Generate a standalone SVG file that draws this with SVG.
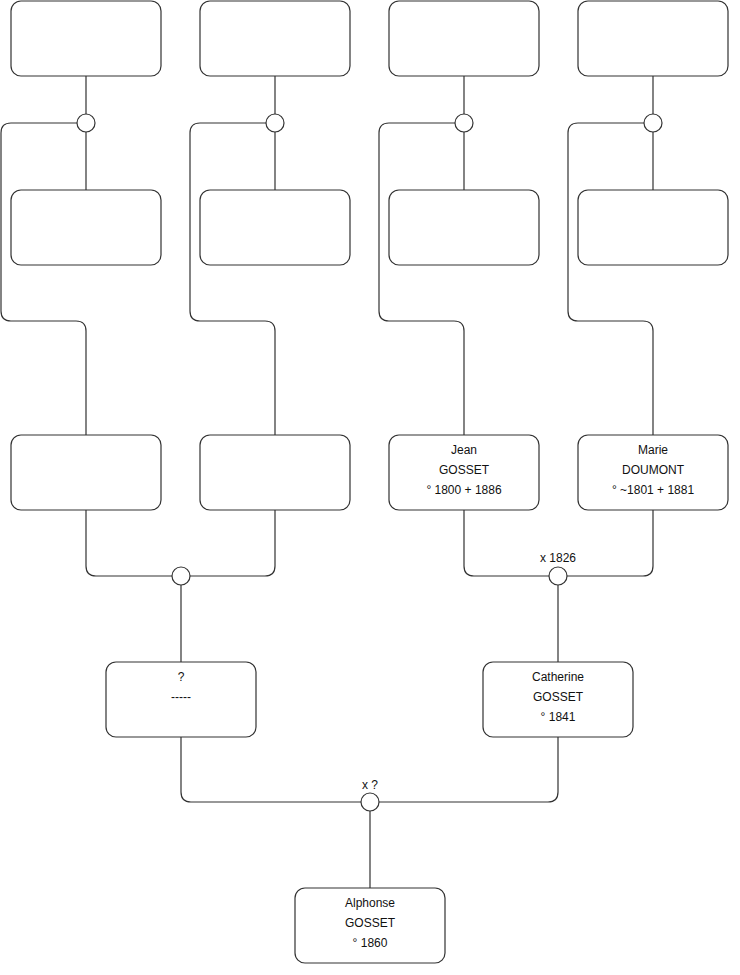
<svg xmlns="http://www.w3.org/2000/svg" width="740" height="975" viewBox="0 0 740 975">
<style>
.box{fill:#fff;stroke:#333;stroke-width:1.2}
.c{fill:#fff;stroke:#333;stroke-width:1.2}
.ln{fill:none;stroke:#333;stroke-width:1.2}
text{font-family:"Liberation Sans",Arial,sans-serif;font-size:12px;fill:#111;text-anchor:middle}
</style>
<rect width="740" height="975" fill="#fff"/>
<g id="connectors">
<path class="ln" d="M86,76V190 M77,123H11Q1,123 1,133V311Q1,321 11,321H76Q86,321 86,331V435"/>
<path class="ln" d="M275,76V190 M266,123H200Q190,123 190,133V311Q190,321 200,321H265Q275,321 275,331V435"/>
<path class="ln" d="M464,76V190 M455,123H389Q379,123 379,133V311Q379,321 389,321H454Q464,321 464,331V435"/>
<path class="ln" d="M653,76V190 M644,123H578Q568,123 568,133V311Q568,321 578,321H643Q653,321 653,331V435"/>
<path class="ln" d="M86,510V566Q86,576 96,576H172 M275,510V566Q275,576 265,576H190 M181,585V662"/>
<path class="ln" d="M464,510V566Q464,576 474,576H549 M653,510V566Q653,576 643,576H567 M558,585V662"/>
<path class="ln" d="M181,737V792Q181,802 191,802H361 M558,737V792Q558,802 548,802H379 M370,811V888"/>
<circle class="c" cx="86" cy="123" r="9"/>
<circle class="c" cx="275" cy="123" r="9"/>
<circle class="c" cx="464" cy="123" r="9"/>
<circle class="c" cx="653" cy="123" r="9"/>
<circle class="c" cx="181" cy="576" r="9"/>
<circle class="c" cx="558" cy="576" r="9"/>
<circle class="c" cx="370" cy="802" r="9"/>
<text x="558" y="562">x 1826</text>
<text x="370" y="789">x ?</text>
</g>
<g id="n1"><rect class="box" x="11" y="1" width="150" height="75" rx="10"/></g>
<g id="n2"><rect class="box" x="200" y="1" width="150" height="75" rx="10"/></g>
<g id="n3"><rect class="box" x="389" y="1" width="150" height="75" rx="10"/></g>
<g id="n4"><rect class="box" x="578" y="1" width="150" height="75" rx="10"/></g>
<g id="n5"><rect class="box" x="11" y="190" width="150" height="75" rx="10"/></g>
<g id="n6"><rect class="box" x="200" y="190" width="150" height="75" rx="10"/></g>
<g id="n7"><rect class="box" x="389" y="190" width="150" height="75" rx="10"/></g>
<g id="n8"><rect class="box" x="578" y="190" width="150" height="75" rx="10"/></g>
<g id="n9"><rect class="box" x="11" y="435" width="150" height="75" rx="10"/></g>
<g id="n10"><rect class="box" x="200" y="435" width="150" height="75" rx="10"/></g>
<g id="jean"><rect class="box" x="389" y="435" width="150" height="75" rx="10"/>
<text x="464" y="454">Jean</text><text x="464" y="474">GOSSET</text><text x="464" y="494">° 1800 + 1886</text></g>
<g id="marie"><rect class="box" x="578" y="435" width="150" height="75" rx="10"/>
<text x="653" y="454">Marie</text><text x="653" y="474">DOUMONT</text><text x="653" y="494">° ~1801 + 1881</text></g>
<g id="unknown"><rect class="box" x="106" y="662" width="150" height="75" rx="10"/>
<text x="181" y="681">?</text><text x="181" y="701">-----</text></g>
<g id="catherine"><rect class="box" x="483" y="662" width="150" height="75" rx="10"/>
<text x="558" y="681">Catherine</text><text x="558" y="701">GOSSET</text><text x="558" y="721">° 1841</text></g>
<g id="alphonse"><rect class="box" x="295" y="888" width="150" height="75" rx="10"/>
<text x="370" y="907">Alphonse</text><text x="370" y="927">GOSSET</text><text x="370" y="947">° 1860</text></g>
</svg>
